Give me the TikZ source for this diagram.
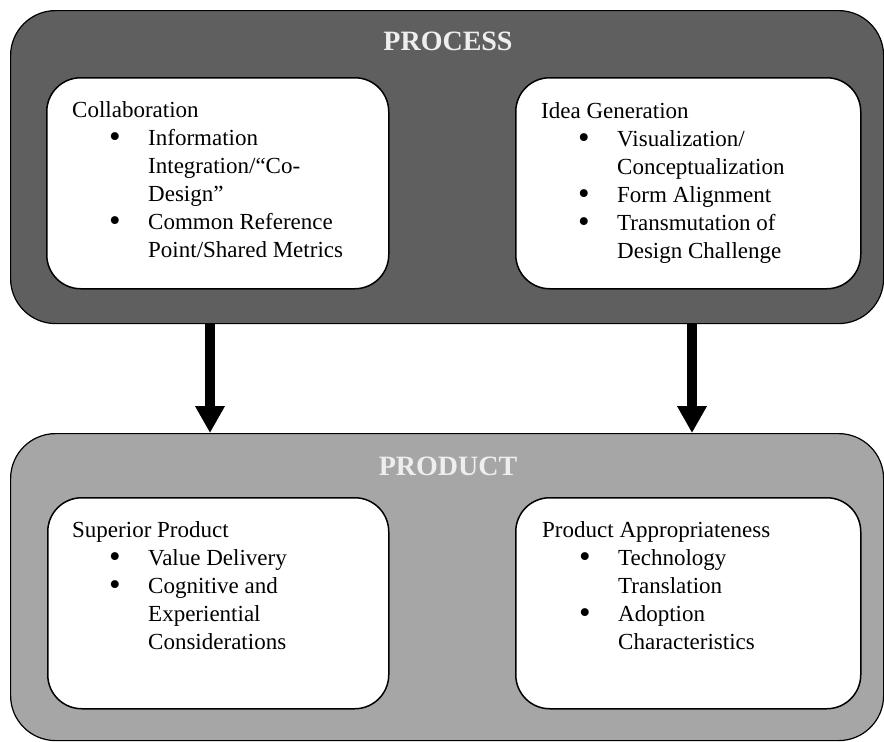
\documentclass[tikz,border=0pt]{standalone}
\usepackage{fontspec}
\setmainfont{Liberation Serif}
\usetikzlibrary{arrows.meta}
\definecolor{procfill}{HTML}{5F5F5F}
\definecolor{prodfill}{HTML}{A6A6A6}
\definecolor{titlecol}{HTML}{EEEEEE}
\tikzset{
  outerbox/.style={draw=black, line width=1.2pt, rounded corners=45pt, anchor=north west, inner sep=0pt},
  innerbox/.style={draw=black, fill=white, line width=1.5pt, rounded corners=34pt, anchor=north west, inner sep=0pt},
  titletext/.style={font=\fontsize{28}{32}\selectfont\bfseries, text=titlecol, anchor=base, inner sep=0pt},
  bodytext/.style={font=\fontsize{23}{28}\selectfont, anchor=base west, inner sep=0pt},
  bigarrow/.style={line width=10pt, -{Triangle[width=28pt,length=27pt]}}
}
\newcommand{\bigbullet}{\smash{\raisebox{-2.5pt}{\fontsize{33}{28}\selectfont •}}}
\newcommand{\bitem}[1]{\hspace*{37pt}\makebox[39pt][l]{\bigbullet}#1}
\newcommand{\bcont}[1]{\hspace*{76pt}#1}
\begin{document}
\begin{tikzpicture}[x=1pt,y=-1pt]
\useasboundingbox (0,0) rectangle (884,742);
% outer boxes
\node[outerbox, fill=procfill, minimum width=873pt, minimum height=313pt] (process) at (10,10) {};
\node[outerbox, fill=prodfill, minimum width=873pt, minimum height=307pt] (product) at (10,433) {};
% titles
\node[titletext] (processtitle) at (448,50) {PROCESS};
\node[titletext] (producttitle) at (448,475) {PRODUCT};
% inner boxes
\node[innerbox, minimum width=342pt, minimum height=211pt] (collabbox) at (46,77) {};
\node[innerbox, minimum width=345pt, minimum height=211pt] (ideabox) at (515,77) {};
\node[innerbox, minimum width=341pt, minimum height=211pt] (superbox) at (47,497) {};
\node[innerbox, minimum width=345pt, minimum height=211pt] (approbox) at (515,497) {};
% texts
\node[bodytext] (collab) at (72,117) {\begin{tabular}[t]{@{}l@{}}Collaboration\\
\bitem{Information}\\
\bcont{Integration/“Co-}\\
\bcont{Design”}\\
\bitem{Common Reference}\\
\bcont{Point/Shared Metrics}\end{tabular}};
\node[bodytext] (idea) at (541,118) {\begin{tabular}[t]{@{}l@{}}Idea Generation\\
\bitem{Visualization/}\\
\bcont{Conceptualization}\\
\bitem{Form Alignment}\\
\bitem{Transmutation of}\\
\bcont{Design Challenge}\end{tabular}};
\node[bodytext] (superior) at (72,537) {\begin{tabular}[t]{@{}l@{}}Superior Product\\
\bitem{Value Delivery}\\
\bitem{Cognitive and}\\
\bcont{Experiential}\\
\bcont{Considerations}\end{tabular}};
\node[bodytext] (appro) at (542,537) {\begin{tabular}[t]{@{}l@{}}Product Appropriateness\\
\bitem{Technology}\\
\bcont{Translation}\\
\bitem{Adoption}\\
\bcont{Characteristics}\end{tabular}};
% arrows
\coordinate (leftx) at (210,0);
\coordinate (rightx) at (692,0);
\draw[bigarrow] (process.south -| leftx) -- (product.north -| leftx);
\draw[bigarrow] (process.south -| rightx) -- (product.north -| rightx);
\end{tikzpicture}
\end{document}
